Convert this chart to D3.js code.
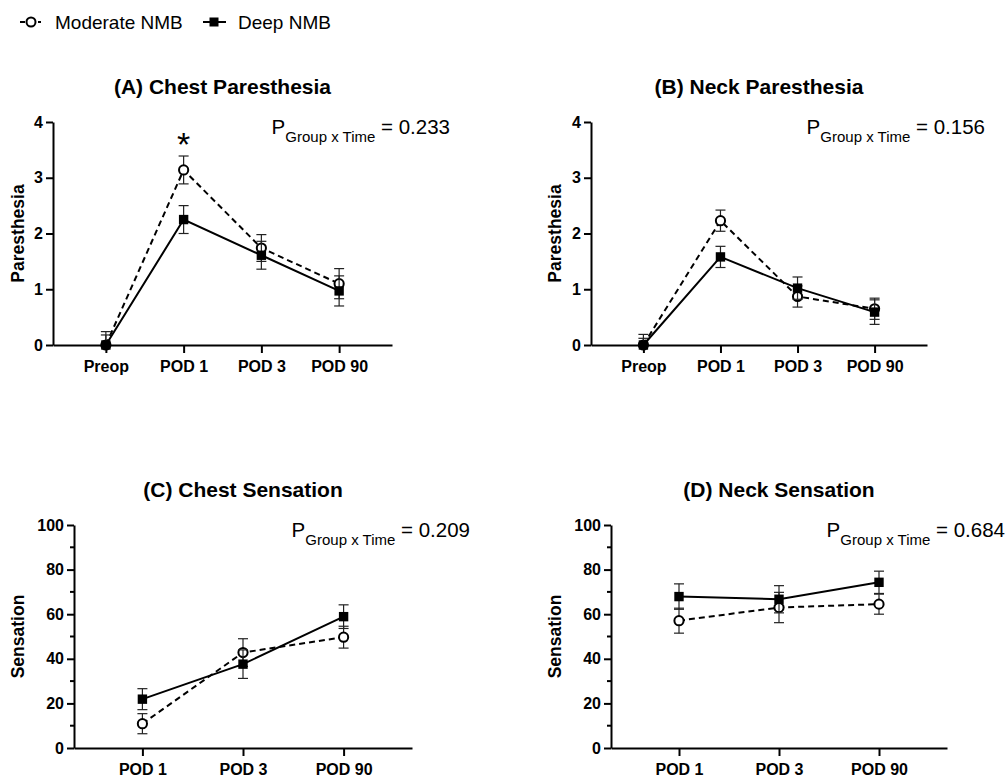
<!DOCTYPE html>
<html>
<head>
<meta charset="utf-8">
<script src="https://cdn.jsdelivr.net/npm/d3@7"></script>
<style>
  body { margin: 0; background: #fff; }
  svg { font-family: "Liberation Sans", Arial, sans-serif; }
</style>
</head>
<body>
<div id="chart"></div>
<script>
// Time points
const timesPar = ["Preop", "POD 1", "POD 3", "POD 90"];
const timesSen = ["POD 1", "POD 3", "POD 90"];

// (A) Chest paresthesia: mean and SEM
const chestParModMean = [0, 3.14, 1.74, 1.10];
const chestParModSem = [0.24, 0.25, 0.24, 0.27];
const chestParDeepMean = [0, 2.25, 1.61, 0.97];
const chestParDeepSem = [0.18, 0.25, 0.25, 0.27];

// (B) Neck paresthesia
const neckParModMean = [0, 2.23, 0.87, 0.65];
const neckParModSem = [0.19, 0.19, 0.19, 0.19];
const neckParDeepMean = [0, 1.58, 1.02, 0.59];
const neckParDeepSem = [0.12, 0.19, 0.2, 0.22];

// (C) Chest sensation
const chestSenModMean = [10.9, 42.8, 49.7];
const chestSenModSem = [4.5, 6.2, 4.9];
const chestSenDeepMean = [21.9, 37.6, 58.9];
const chestSenDeepSem = [4.7, 6.4, 5.3];

// (D) Neck sensation
const neckSenModMean = [57.1, 63.0, 64.5];
const neckSenModSem = [5.6, 6.8, 4.5];
const neckSenDeepMean = [67.9, 66.7, 74.3];
const neckSenDeepSem = [5.7, 6.1, 5.0];

const parTicks = [0, 1, 2, 3, 4];
const senTicks = [0, 20, 40, 60, 80, 100];
const senMinorTicks = [10, 30, 50, 70, 90];

const width = 1007;
const height = 780;

const svg = d3
	.select("#chart")
	.append("svg")
	.attr("width", width)
	.attr("height", height);

// Legend
const legend = svg.append("g").attr("transform", "translate(0, 22)");
legend
	.append("line")
	.attr("x1", 20)
	.attr("x2", 43)
	.attr("stroke", "#000")
	.attr("stroke-width", 2)
	.attr("stroke-dasharray", "5,13,3");
legend
	.append("circle")
	.attr("cx", 31)
	.attr("r", 4.5)
	.attr("fill", "#fff")
	.attr("stroke", "#000")
	.attr("stroke-width", 2);
legend
	.append("text")
	.attr("x", 55)
	.attr("y", 7)
	.style("font-size", "19px")
	.text("Moderate NMB");
legend
	.append("line")
	.attr("x1", 203)
	.attr("x2", 226)
	.attr("stroke", "#000")
	.attr("stroke-width", 2);
legend
	.append("rect")
	.attr("x", 209.5)
	.attr("y", -4.5)
	.attr("width", 9)
	.attr("height", 9)
	.attr("fill", "#000");
legend
	.append("text")
	.attr("x", 238)
	.attr("y", 7)
	.style("font-size", "19px")
	.text("Deep NMB");

const panels = [
	{
		title: "(A) Chest Paresthesia", yLabel: "Paresthesia", p: "0.233",
		times: timesPar, ticks: parTicks, minor: [], yMax: 4,
		mod: [chestParModMean, chestParModSem], deep: [chestParDeepMean, chestParDeepSem],
		left: 53, right: 392, top: 122, bottom: 345, labelX: 24, star: 1,
	},
	{
		title: "(B) Neck Paresthesia", yLabel: "Paresthesia", p: "0.156",
		times: timesPar, ticks: parTicks, minor: [], yMax: 4,
		mod: [neckParModMean, neckParModSem], deep: [neckParDeepMean, neckParDeepSem],
		left: 591, right: 927, top: 122, bottom: 345, labelX: 561, star: null,
	},
	{
		title: "(C) Chest Sensation", yLabel: "Sensation", p: "0.209",
		times: timesSen, ticks: senTicks, minor: senMinorTicks, yMax: 100,
		mod: [chestSenModMean, chestSenModSem], deep: [chestSenDeepMean, chestSenDeepSem],
		left: 74, right: 412, top: 525, bottom: 748, labelX: 24, star: null,
	},
	{
		title: "(D) Neck Sensation", yLabel: "Sensation", p: "0.684",
		times: timesSen, ticks: senTicks, minor: senMinorTicks, yMax: 100,
		mod: [neckSenModMean, neckSenModSem], deep: [neckSenDeepMean, neckSenDeepSem],
		left: 611, right: 947, top: 525, bottom: 748, labelX: 561, star: null,
	},
];

panels.forEach(drawPanel);

function drawPanel(pn) {
	const g = svg.append("g");

	const x = d3
		.scalePoint()
		.domain(pn.times)
		.range([pn.left, pn.right])
		.padding(0.68);

	const y = d3
		.scaleLinear()
		.domain([0, pn.yMax])
		.range([pn.bottom, pn.top])
		.clamp(true);

	// Title
	g.append("text")
		.attr("x", (pn.left + pn.right) / 2)
		.attr("y", pn.top - 28)
		.attr("text-anchor", "middle")
		.style("font-size", "21px")
		.style("font-weight", "bold")
		.text(pn.title);

	// Minor ticks
	g.selectAll(".minor")
		.data(pn.minor)
		.enter()
		.append("line")
		.attr("x1", pn.left - 4)
		.attr("x2", pn.left)
		.attr("y1", (d) => y(d))
		.attr("y2", (d) => y(d))
		.attr("stroke", "#000")
		.attr("stroke-width", 2);

	// Y axis
	const yAxis = g
		.append("g")
		.attr("transform", `translate(${pn.left},0)`)
		.call(
			d3
				.axisLeft(y)
				.tickValues(pn.ticks)
				.tickFormat(d3.format("d"))
				.tickSize(7)
				.tickSizeOuter(0)
				.tickPadding(3)
		);

	// X axis
	const xAxis = g
		.append("g")
		.attr("transform", `translate(0,${pn.bottom})`)
		.call(d3.axisBottom(x).tickSize(8).tickSizeOuter(0).tickPadding(8));

	[yAxis, xAxis].forEach((ax) => {
		ax.select(".domain").attr("stroke-width", 2);
		ax.selectAll(".tick line").attr("stroke-width", 2);
		ax.selectAll(".tick text")
			.style("font-size", "16px")
			.style("font-weight", "bold")
			.attr("fill", "#000")
			.style("font-family", "'Liberation Sans', Arial, sans-serif");
	});

	// Y label
	g.append("text")
		.attr("transform", `translate(${pn.labelX},${(pn.top + pn.bottom) / 2}) rotate(-90)`)
		.attr("text-anchor", "middle")
		.style("font-size", "17.5px")
		.style("font-weight", "bold")
		.text(pn.yLabel);

	// P value
	const pText = g
		.append("text")
		.attr("x", pn.right + 58)
		.attr("y", pn.top + 12)
		.attr("text-anchor", "end")
		.style("font-size", "20.5px");
	pText.append("tspan").text("P");
	pText.append("tspan").attr("dy", 7.5).style("font-size", "15px").text("Group x Time");
	pText.append("tspan").attr("dy", -7.5).text(" = " + pn.p);

	// Series
	drawSeries(g, x, y, pn.times, pn.mod[0], pn.mod[1], "moderate");
	drawSeries(g, x, y, pn.times, pn.deep[0], pn.deep[1], "deep");

	// Significance star
	if (pn.star !== null) {
		const t = pn.times[pn.star];
		g.append("text")
			.attr("x", x(t))
			.attr("y", y(pn.mod[0][pn.star] + pn.mod[1][pn.star]) + 0)
			.attr("text-anchor", "middle")
			.style("font-size", "34px")
			.text("*");
	}
}

function drawSeries(g, x, y, times, means, sems, kind) {
	const data = times.map((t, i) => ({ t, m: means[i], s: sems[i] }));

	// Error bars
	const eb = g.append("g").attr("stroke", "#222").attr("stroke-width", 1.2);
	data.forEach((d) => {
		const cx = x(d.t);
		const hi = y(d.m + d.s);
		const lo = y(d.m - d.s);
		eb.append("line").attr("x1", cx).attr("x2", cx).attr("y1", hi).attr("y2", lo);
		eb.append("line").attr("x1", cx - 5).attr("x2", cx + 5).attr("y1", hi).attr("y2", hi);
		if (d.m - d.s > 0) {
			eb.append("line").attr("x1", cx - 5).attr("x2", cx + 5).attr("y1", lo).attr("y2", lo);
		}
	});

	const line = d3
		.line()
		.x((d) => x(d.t))
		.y((d) => y(d.m));

	g.append("path")
		.datum(data)
		.attr("d", line)
		.attr("fill", "none")
		.attr("stroke", "#000")
		.attr("stroke-width", 2)
		.attr("stroke-dasharray", kind === "moderate" ? "6,4" : null);

	if (kind === "moderate") {
		g.selectAll(null)
			.data(data)
			.enter()
			.append("circle")
			.attr("cx", (d) => x(d.t))
			.attr("cy", (d) => y(d.m))
			.attr("r", 4.6)
			.attr("fill", "#fff")
			.attr("stroke", "#000")
			.attr("stroke-width", 2);
	} else {
		g.selectAll(null)
			.data(data)
			.enter()
			.append("rect")
			.attr("x", (d) => x(d.t) - 4.7)
			.attr("y", (d) => y(d.m) - 4.7)
			.attr("width", 9.4)
			.attr("height", 9.4)
			.attr("fill", "#000");
	}
}
</script>
</body>
</html>
